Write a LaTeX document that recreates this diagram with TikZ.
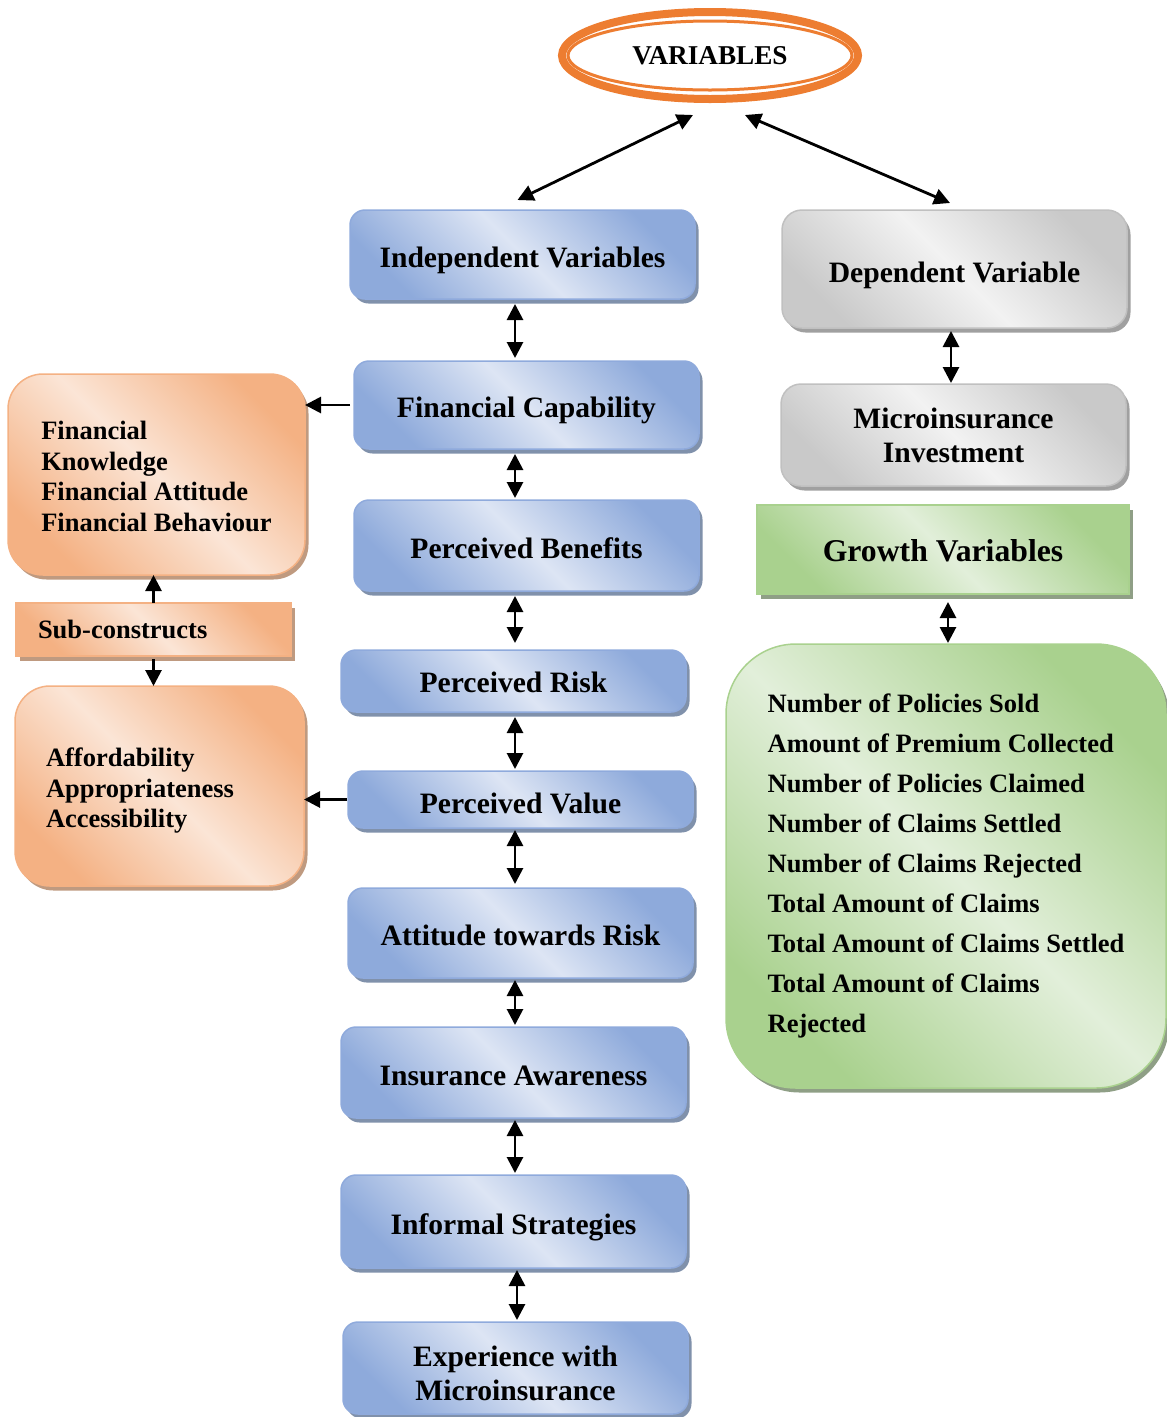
\documentclass[tikz,border=0pt]{standalone}
\usepackage{fontspec}
\setmainfont{Liberation Serif}
\usetikzlibrary{arrows.meta,shapes.geometric,shadows,calc}

% palette
\definecolor{varOrange}{HTML}{ED7D31}
\definecolor{blueDk}{HTML}{8EAADB}
\definecolor{blueLt}{HTML}{DDE5F4}
\definecolor{blueLine}{HTML}{8FAADC}
\definecolor{blueShadow}{HTML}{8091AB}
\definecolor{orDk}{HTML}{F4B183}
\definecolor{orLt}{HTML}{FBE5D6}
\definecolor{orLine}{HTML}{F4B183}
\definecolor{orShadow}{HTML}{BF9A80}
\definecolor{grDk}{HTML}{C9C9C9}
\definecolor{grLt}{HTML}{F2F2F2}
\definecolor{grLine}{HTML}{C0C0C0}
\definecolor{grShadow}{HTML}{A0A0A0}
\definecolor{gnDk}{HTML}{A9D18E}
\definecolor{gnLt}{HTML}{E2EFDA}
\definecolor{gnLine}{HTML}{A9D18E}
\definecolor{gnShadow}{HTML}{8F9F86}

\begin{document}
\begin{tikzpicture}[x=1pt,y=-1pt,
  >={Triangle[length=16pt,width=16pt]},
  link/.style={line width=2.8pt,<->},
  onelink/.style={line width=2.8pt,->},
  box/.style={draw, line width=1.5pt, inner sep=0pt, outer sep=0pt,
    align=center, text=black, minimum width=345pt},
  oneline/.style={text height=#1, text depth=0pt},
  oneline/.default=25pt,
  mainfont/.style={font=\bfseries\fontsize{29.6}{34}\selectfont},
  listfont/.style={font=\bfseries\fontsize{26.5}{30.5}\selectfont},
  shade3/.style n args={2}{left color=#1, right color=#1, middle color=#2, shading angle=-45},
  shadowed/.style={drop shadow={shadow xshift=3.5pt, shadow yshift=-4.5pt, fill=#1, opacity=1}},
  bluebox/.style={box, mainfont, rounded corners=15pt, draw=blueLine,
    shade3={blueDk}{blueLt}, shadowed=blueShadow},
  graybox/.style={box, mainfont, rounded corners=20pt, draw=grLine,
    shade3={grDk}{grLt}, shadowed=grShadow},
  orangebox/.style={box, listfont, align=left, draw=orLine,
    shade3={orDk}{orLt}, shadowed=orShadow},
  greenbox/.style={box, draw=gnLine, shade3={gnDk}{gnLt}, shadowed=gnShadow},
]
\useasboundingbox (0,0) rectangle (1167,1417);

% title ellipse with double orange outline
\node[ellipse, draw=varOrange, line width=8pt, minimum width=296pt, minimum height=87pt,
      inner sep=0pt, font=\bfseries\fontsize{27.2}{30}\selectfont] (var) at (710,55.5) {VARIABLES};
\draw[varOrange, line width=3pt] (var.center) ellipse [x radius=142pt, y radius=34.5pt];

% independent variables chain
\node[bluebox, oneline, minimum height=89pt] (b1) at (522.5,254.5) {Independent Variables};
\node[bluebox, oneline, minimum height=88pt] (b2) at (526.5,405) {Financial Capability};
\node[bluebox, oneline, minimum height=91pt] (b3) at (526.5,545.5) {Perceived Benefits};
\node[bluebox, oneline=22pt, minimum height=62pt] (b4) at (513.5,681) {Perceived Risk};
\node[bluebox, oneline=27pt, minimum height=57pt] (b5) at (520.5,799.5) {Perceived Value};
\node[bluebox, oneline, minimum height=90pt] (b6) at (520.5,933) {Attitude towards Risk};
\node[bluebox, oneline, minimum height=91pt] (b7) at (513.5,1072.5) {Insurance Awareness};
\node[bluebox, oneline, minimum height=93pt] (b8) at (513.5,1221.5) {Informal Strategies};
\node[bluebox, minimum height=92pt] (b9) at (515.5,1368) {\rule{0pt}{31pt}Experience with\\Microinsurance};

% dependent variable
\node[graybox, oneline=26pt, minimum height=118pt] (g1) at (954.5,269) {Dependent Variable};
\node[graybox, minimum height=102pt] (g2) at (953.5,435) {Microinsurance\\Investment};

% growth variables
\node[greenbox, oneline=24pt, minimum width=372pt, minimum height=89pt,
      font=\bfseries\fontsize{31.7}{36}\selectfont] (gr) at (943,549.5) {Growth Variables};
\node[greenbox, rounded corners=70pt, minimum width=440pt, minimum height=444pt, align=left,
      font=\bfseries\fontsize{26.5}{40}\selectfont] (gb) at (946,866)
  {Number of Policies Sold\\
   Amount of Premium Collected\\
   Number of Policies Claimed\\
   Number of Claims Settled\\
   Number of Claims Rejected\\
   Total Amount of Claims\\
   Total Amount of Claims Settled\\
   Total Amount of Claims\\
   Rejected};

% sub-constructs
\node[orangebox, rounded corners=35pt, minimum width=297pt, minimum height=201pt] (o1) at (156.5,474.5)
  {\rule{0pt}{22pt}Financial\\Knowledge\\Financial Attitude\\Financial Behaviour};
\node[orangebox, minimum width=275pt, minimum height=53pt, text width=231pt, inner xsep=22pt] (sc) at (153.5,629.5)
  {Sub-constructs};
\node[orangebox, rounded corners=35pt, minimum width=289pt, minimum height=200pt, text width=227pt, inner xsep=31pt] (o2) at (159.5,786)
  {\rule{0pt}{28pt}Affordability\\Appropriateness\\Accessibility};

% connectors
\coordinate (ax) at (515,0);
\coordinate (gx) at (951,0);
\coordinate (hx) at (948,0);

\draw[link] ($(var.south)+(-17,12)$) -- ($(b1.north)+(-5,-10)$);
\draw[link] ($(var.south)+(35,12)$) -- ($(g1.north)+(-4.5,-7)$);

\draw[link, shorten <=5pt, shorten >=3pt] (b1.south -| ax) -- (b2.north -| ax);
\draw[link, shorten <=5pt, shorten >=2pt] (b2.south -| ax) -- (b3.north -| ax);
\draw[link, shorten <=5pt, shorten >=7pt] (b3.south -| ax) -- (b4.north -| ax);
\draw[link, shorten <=5pt, shorten >=2pt] (b4.south -| ax) -- (b5.north -| ax);
\draw[link, shorten <=2pt, shorten >=4pt] (b5.south -| ax) -- (b6.north -| ax);
\draw[link, shorten <=2pt, shorten >=2pt] (b6.south -| ax) -- (b7.north -| ax);
\draw[link, shorten <=2pt, shorten >=2pt] (b7.south -| ax) -- (b8.north -| ax);
\draw[link, shorten <=2pt, shorten >=2pt] ([xshift=2pt]b8.south -| ax) -- ([xshift=2pt]b9.north -| ax);

\draw[link, shorten <=3pt, shorten >=1pt] (g1.south -| gx) -- (g2.north -| gx);
\draw[link, shorten <=8pt, shorten >=1pt] (gr.south -| hx) -- (gb.north -| hx);

\draw[onelink, shorten <=4pt] (b2.west) -- (b2.west -| o1.east);
\draw[onelink, shorten <=1pt] (b5.west) -- (b5.west -| o2.east);
\draw[onelink] (sc.north) -- (sc.north |- o1.south);
\draw[onelink, shorten <=3pt] (sc.south) -- (sc.south |- o2.north);
\end{tikzpicture}
\end{document}
